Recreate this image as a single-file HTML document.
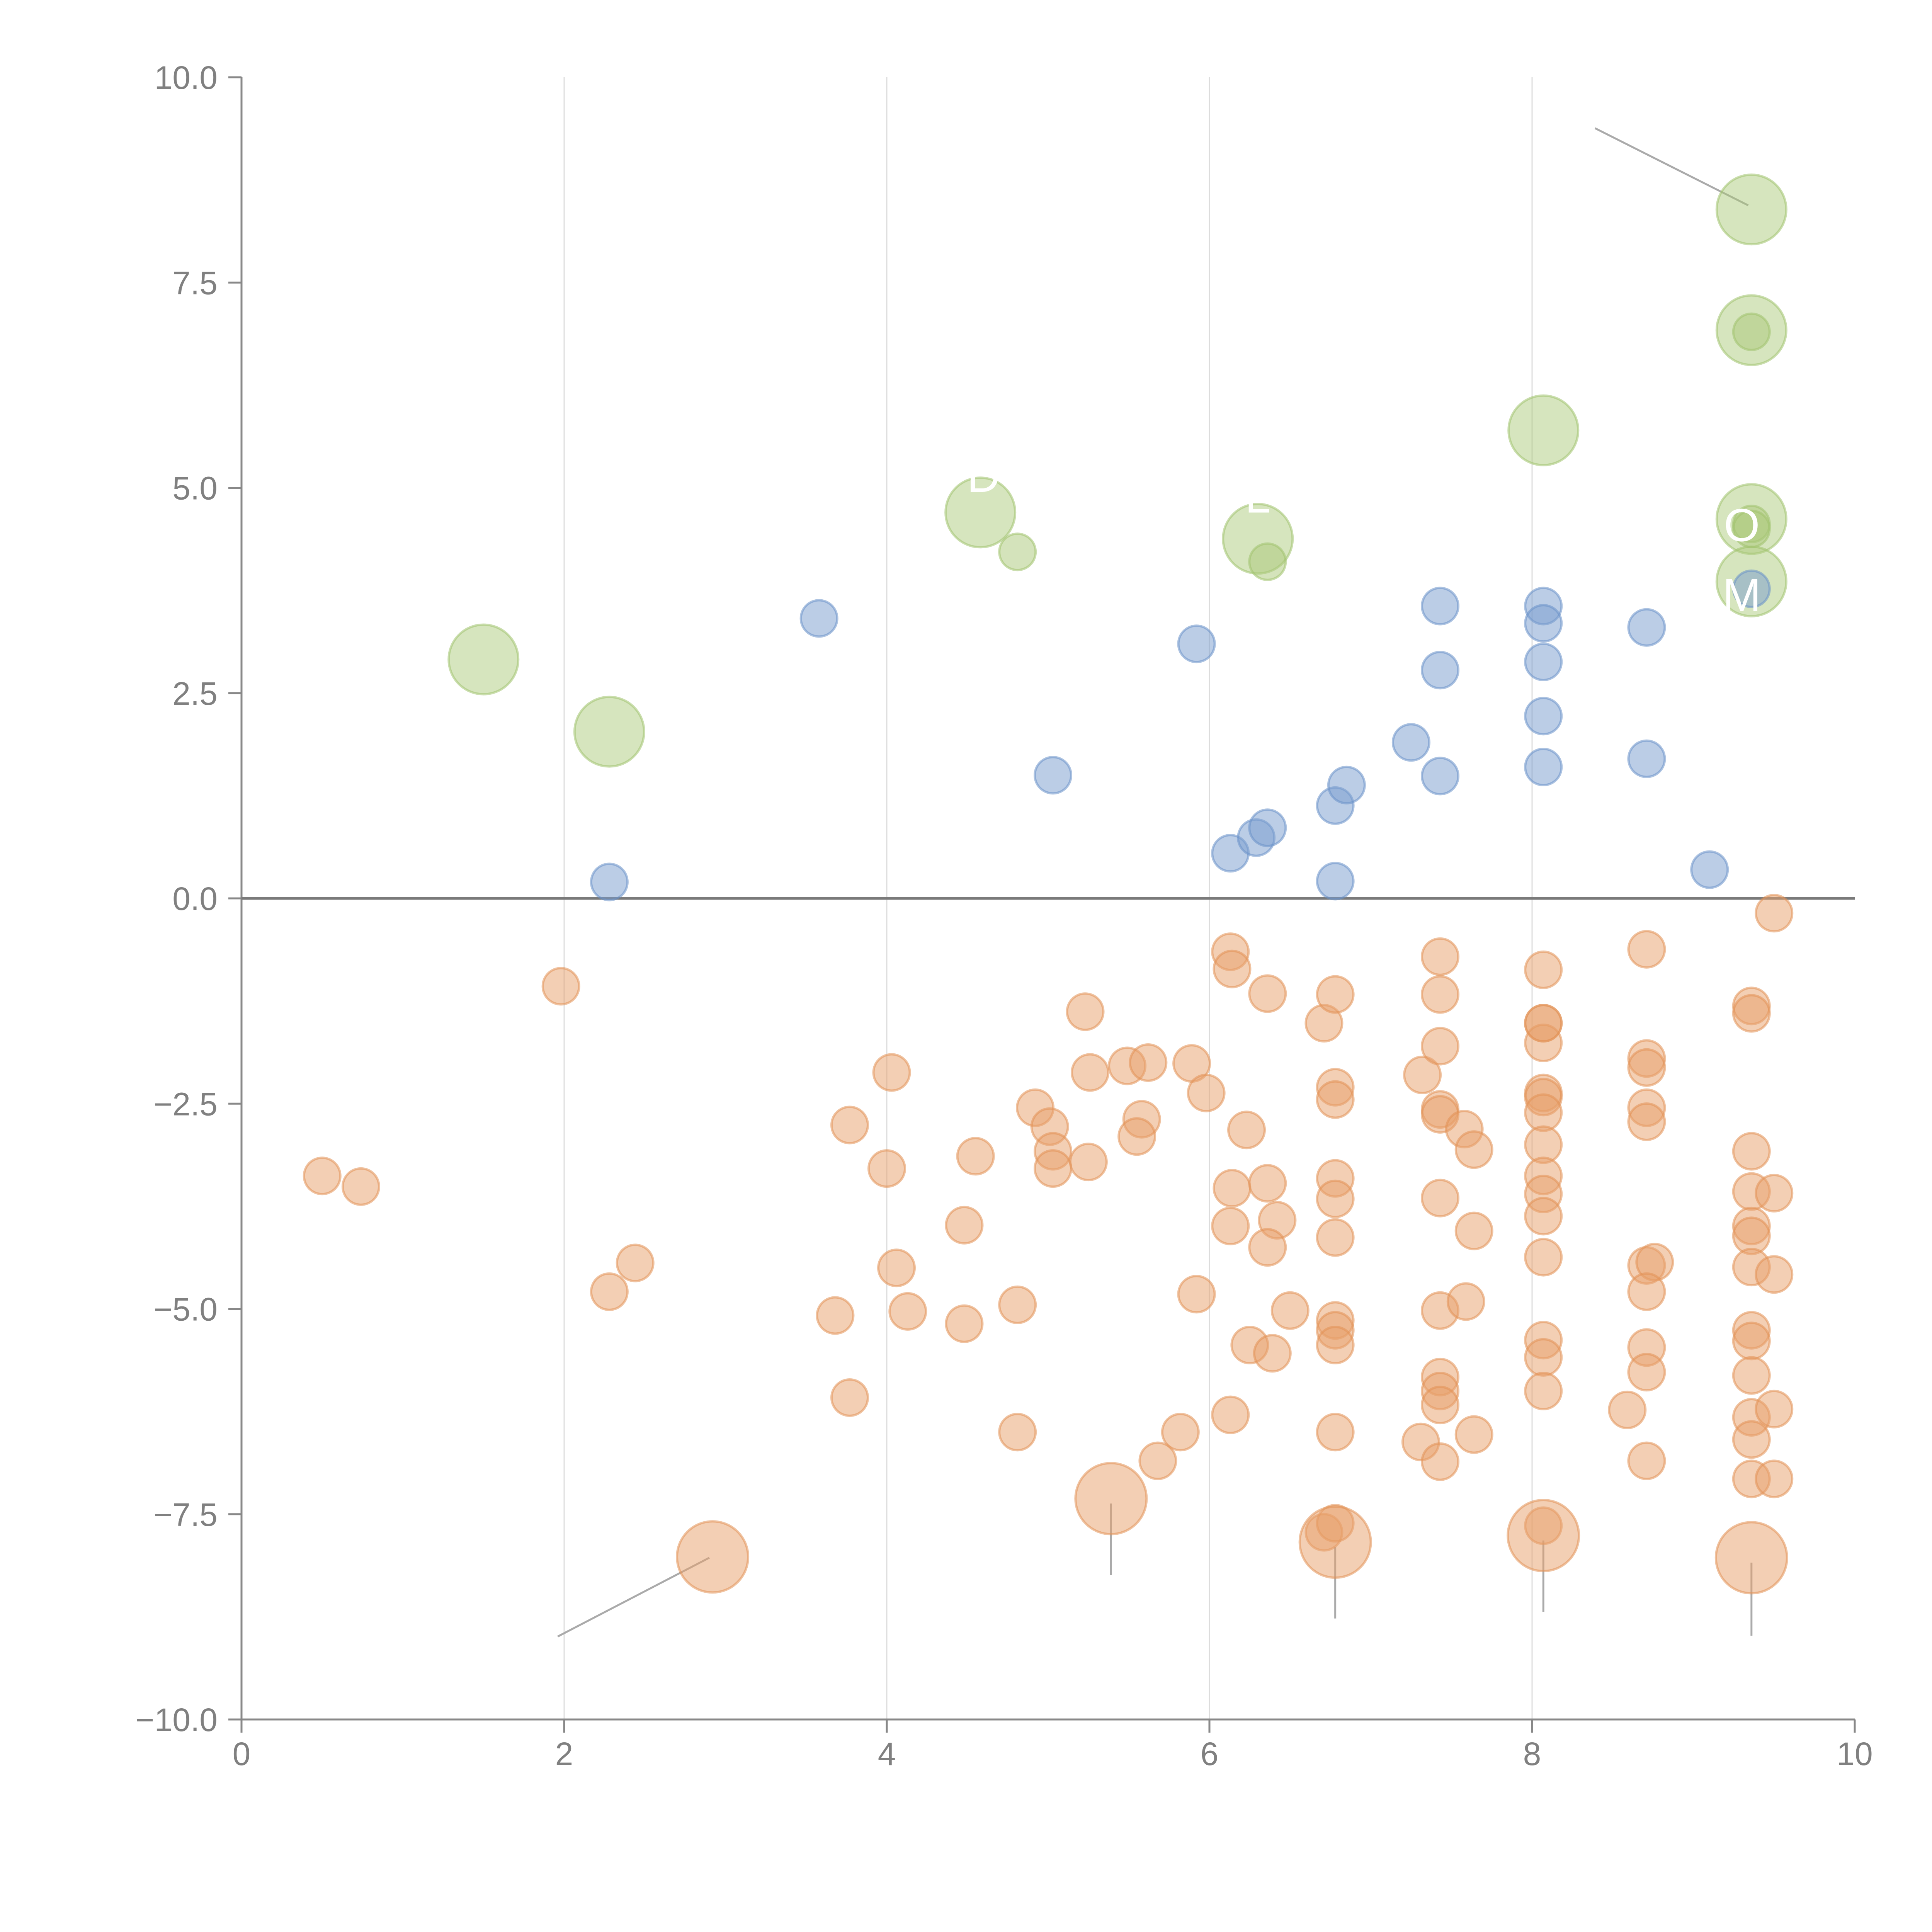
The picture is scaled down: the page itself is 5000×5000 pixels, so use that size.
<!DOCTYPE html>
<html><head><meta charset="utf-8"><style>
html,body{margin:0;padding:0;background:#fff;width:5000px;height:5000px;overflow:hidden}
svg{display:block}
svg text{font-family:"Liberation Sans",Arial,sans-serif}
</style></head><body>
<svg id="chart" width="5000" height="5000" viewBox="0 0 5000 5000" xmlns="http://www.w3.org/2000/svg">
<g id="grid"></g>
<g id="axes"></g>
<g id="annot"></g>
<g id="marks"></g>
<g id="labels"></g>
</svg>
<script>
const xTicks=[0,2,4,6,8,10];
const xTickLabels=["0","2","4","6","8","10"];
const yTicks=[10,7.5,5,2.5,0,-2.5,-5,-7.5,-10];
const yTickLabels=["10.0","7.5","5.0","2.5","0.0","\u22122.5","\u22125.0","\u22127.5","\u221210.0"];
const blueX=[2.28,3.58,5.03,5.92,6.13,6.29,6.36,6.78,6.85,6.78,7.25,7.43,7.43,7.43,8.07,8.07,8.07,8.07,8.07,8.71,8.71,9.1,9.36];
const blueY=[0.2,3.41,1.5,3.1,0.55,0.74,0.86,1.13,1.38,0.21,1.9,3.56,2.78,1.49,3.56,3.35,2.88,2.22,1.6,3.3,1.7,0.35,3.77];
const greenBigX=[1.5,2.28,4.58,6.3,8.07,9.36,9.36,9.36,9.36];
const greenBigY=[2.91,2.03,4.7,4.38,5.7,8.39,6.92,4.62,3.86];
const greenX=[4.81,6.36,9.36,9.36,9.36];
const greenY=[4.22,4.1,6.9,4.56,4.5];
const orangeBigX=[2.92,5.39,6.78,8.07,9.36];
const orangeBigY=[-8.02,-7.31,-7.84,-7.76,-8.03];
const orangeX=[9.5,1.98,0.5,0.74,2.28,2.44,3.68,3.77,3.77,4.03,4.0,4.06,4.13,4.48,4.48,4.55,4.81,4.81,4.92,5.01,5.03,5.03,5.23,5.26,5.25,5.49,5.62,5.58,5.55,5.68,5.82,5.89,5.98,5.92,6.13,6.14,6.23,6.14,6.13,6.13,6.25,6.36,6.36,6.42,6.36,6.39,6.5,6.71,6.78,6.78,6.78,6.78,6.78,6.78,6.78,6.78,6.78,6.78,6.71,6.78,7.32,7.31,7.43,7.43,7.43,7.43,7.43,7.58,7.64,7.43,7.64,7.43,7.59,7.43,7.43,7.43,7.43,7.64,8.07,8.07,8.07,8.07,8.07,8.07,8.07,8.07,8.07,8.07,8.07,8.07,8.07,8.07,8.07,8.07,8.71,8.71,8.71,8.71,8.71,8.71,8.76,8.71,8.71,8.71,8.59,8.71,9.36,9.36,9.36,9.36,9.36,9.36,9.36,9.36,9.36,9.36,9.36,9.36,9.36,9.5,9.5,9.5,9.5];
const orangeY=[-0.18,-1.07,-3.38,-3.51,-4.79,-4.44,-5.08,-2.76,-6.08,-2.12,-3.29,-4.5,-5.03,-3.98,-5.18,-3.14,-4.95,-6.5,-2.55,-2.78,-3.08,-3.29,-1.38,-2.12,-3.21,-2.04,-2.0,-2.69,-2.9,-6.85,-6.5,-2.01,-2.37,-4.82,-0.65,-0.86,-2.82,-3.53,-3.99,-6.29,-5.44,-1.16,-3.47,-3.92,-4.25,-5.54,-5.02,-1.52,-1.17,-2.3,-2.45,-3.41,-3.66,-4.13,-5.14,-5.26,-5.44,-6.5,-7.72,-7.61,-2.15,-6.62,-0.71,-1.17,-1.8,-2.57,-2.63,-2.81,-3.06,-3.65,-4.05,-5.02,-4.91,-5.83,-6.0,-6.17,-6.86,-6.53,-0.87,-1.52,-1.76,-2.37,-2.42,-2.61,-3.0,-3.38,-3.6,-3.87,-4.37,-5.38,-5.59,-6.0,-7.64,-1.52,-0.62,-1.95,-2.06,-2.55,-2.72,-4.47,-4.43,-4.79,-5.47,-5.77,-6.23,-6.85,-1.31,-1.4,-3.08,-3.57,-3.99,-4.11,-4.49,-5.26,-5.39,-5.81,-6.32,-6.59,-7.07,-3.59,-4.58,-6.22,-7.07];
const lineX1=[8.39,1.96,5.39,6.78,8.07,9.36];
const lineY1=[9.38,-8.99,-7.37,-7.9,-7.82,-8.09];
const lineX2=[9.34,2.9,5.39,6.78,8.07,9.36];
const lineY2=[8.44,-8.03,-8.24,-8.77,-8.69,-8.98];

const X=v=>625+v*417.5;
const Y=v=>2325-v*212.5;
const NS="http://www.w3.org/2000/svg";
function mk(tag,parent,attrs){const e=document.createElementNS(NS,tag);for(const k in attrs)e.setAttribute(k,attrs[k]);document.getElementById(parent).appendChild(e);return e;}

[2,4,6,8].forEach(v=>{
  const l=mk('line','grid',{x1:X(v),x2:X(v),y1:Y(10),y2:Y(-10),stroke:'#dcdcdc','stroke-width':3});
  
  
});
let a=mk('line','axes',{x1:X(0),x2:X(0),y1:Y(10),y2:Y(-10),stroke:'#888','stroke-width':5});


a=mk('line','axes',{x1:X(0),x2:X(10),y1:Y(-10),y2:Y(-10),stroke:'#888','stroke-width':5});


a=mk('line','axes',{x1:X(0),x2:X(10),y1:Y(0),y2:Y(0),stroke:'#7a7a7a','stroke-width':7});


xTicks.forEach((v,i)=>{
  const t=mk('line','axes',{x1:X(v),x2:X(v),y1:Y(-10),y2:Y(-10)+34,stroke:'#888','stroke-width':5});
  
  
  const tx=mk('text','axes',{x:X(v),y:4568,'text-anchor':'middle','font-size':84,fill:'#808080'});
  tx.textContent=xTickLabels[i];
  
  
});
yTicks.forEach((v,i)=>{
  const t=mk('line','axes',{x1:X(0)-34,x2:X(0),y1:Y(v),y2:Y(v),stroke:'#888','stroke-width':5});
  
  
  const tx=mk('text','axes',{x:563,y:Y(v)+30,'text-anchor':'end','font-size':84,fill:'#808080'});
  tx.textContent=yTickLabels[i];
  
  
});
lineX1.forEach((v,i)=>{
  const l=mk('line','annot',{x1:X(v),y1:Y(lineY1[i]),x2:X(lineX2[i]),y2:Y(lineY2[i]),stroke:'#aaaaaa','stroke-width':5});
  
  
});
function dots(xs,ys,r,fill,stroke,name){
  xs.forEach((v,i)=>{
    const c=mk('circle','marks',{cx:X(v),cy:Y(ys[i]),r:r,fill:fill,stroke:stroke,'stroke-width':6});
    
    
  });
}
dots(orangeX,orangeY,47,'rgba(232,160,105,0.5)','rgba(226,145,85,0.55)','orange-point');
dots(orangeBigX,orangeBigY,92,'rgba(232,160,105,0.5)','rgba(226,145,85,0.55)','orange-large-point');
dots(greenBigX,greenBigY,90,'rgba(170,200,120,0.48)','rgba(160,195,110,0.55)','green-large-point');
dots(greenX,greenY,47,'rgba(170,200,120,0.5)','rgba(160,195,110,0.55)','green-point');
dots(blueX,blueY,47,'rgba(120,155,205,0.5)','rgba(105,145,200,0.55)','blue-point');
const labTxt=["O","M","L","D"];
const labX=[9.3,9.3,6.3,4.6];
const labY=[4.35,3.5,4.7,4.95];
labTxt.forEach((s,i)=>{
  const t=mk('text','labels',{x:X(labX[i]),y:Y(labY[i]),'text-anchor':'middle','font-size':120,fill:'#fff'});
  t.textContent=s;
  
  
});
</script>
</body></html>
